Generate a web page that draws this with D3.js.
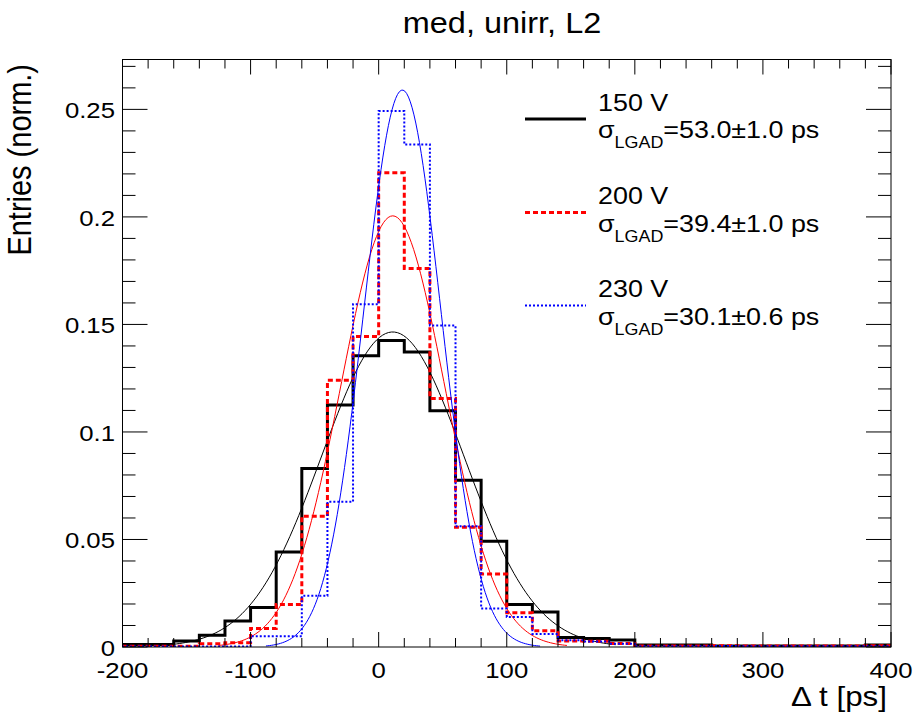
<!DOCTYPE html>
<html>
<head>
<meta charset="utf-8">
<script src="https://cdn.jsdelivr.net/npm/d3@7"></script>
<style>
  body { margin: 0; background: #fff; }
  text { font-family: "Liberation Sans", Arial, Helvetica, sans-serif; fill: #000; }
</style>
</head>
<body>
<div id="chart"></div>
<script>
// bin low edges, 20 ps wide
const binEdges = [-200, -180, -160, -140, -120, -100, -80, -60, -40, -20,
                  0, 20, 40, 60, 80, 100, 120, 140, 160, 180,
                  200, 220, 240, 260, 280, 300, 320, 340, 360, 380];
const binWidth = 20;

const h150 = [0.0012, 0.0012, 0.0028, 0.0055, 0.0121, 0.0184, 0.0442, 0.083, 0.1125, 0.1354,
              0.1425, 0.1372, 0.1099, 0.0776, 0.0492, 0.0198, 0.0163, 0.0044, 0.004, 0.0033,
              0.0009, 0.0009, 0.0009, 0.0005, 0.0005, 0.0005, 0.0005, 0.0005, 0.0005, 0.0009];
const h200 = [0.0004, 0.0004, 0.0004, 0.0015, 0.002, 0.0086, 0.0198, 0.0608, 0.124, 0.1444,
              0.2205, 0.176, 0.1156, 0.0557, 0.0339, 0.0159, 0.0075, 0.0028, 0.0027, 0.0016,
              0.0005, 0.0005, 0.0005, 0.0006, 0.0005, 0.0005, 0.0005, 0.0005, 0.0005, 0.0006];
const h230 = [0.0002, 0.0002, 0.0002, 0.0002, 0.0002, 0.005, 0.005, 0.0238, 0.0675, 0.1594,
              0.2492, 0.2337, 0.1495, 0.0562, 0.0179, 0.014, 0.006, 0.0031, 0.0025, 0.0015,
              0.0003, 0.0003, 0.0003, 0.0005, 0.0003, 0.0003, 0.0003, 0.0003, 0.0003, 0.0003];

// gaussian fit parameters: [amplitude, mean, sigma, from, to]
const fit150 = [0.1465, 11, 55.5, -165, 185];
const fit200 = [0.2005, 11, 40.5, -125, 147];
const fit230 = [0.259, 18.5, 30, -88, 126];

const labels = ['150 V', '200 V', '230 V'];
const sigmas = ['=53.0\u00b11.0 ps', '=39.4\u00b11.0 ps', '=30.1\u00b10.6 ps'];

const xTicks = [-200, -100, 0, 100, 200, 300, 400];
const yTicks = [0, 0.05, 0.1, 0.15, 0.2, 0.25];

const W = 916, H = 715;
const SX = 1.12; // text in the picture is a bit wider than tall

const x = d3.scaleLinear().domain([-200, 400]).range([122.5, 891]);
const y = d3.scaleLinear().domain([0, 0.2732]).range([647, 59.5]);

const svg = d3.select('#chart').append('svg')
	.attr('width', W).attr('height', H);

function txt(sel, px, py, str, size, anchor) {
	return sel.append('text')
		.attr('transform', 'translate(' + px + ',' + py + ') scale(' + SX + ',1)')
		.attr('text-anchor', anchor || 'start')
		.attr('font-size', size)
		.text(str);
}

svg.append('clipPath').attr('id', 'frameclip')
	.append('rect')
	.attr('x', x(-200)).attr('y', y.range()[1])
	.attr('width', x(400) - x(-200)).attr('height', y.range()[0] - y.range()[1]);

const plot = svg.append('g').attr('clip-path', 'url(#frameclip)');

function histPoints(vals) {
	const pts = [{ x: binEdges[0], v: 0 }];
	vals.forEach((v, i) => pts.push({ x: binEdges[i], v: v }));
	const last = binEdges[binEdges.length - 1] + binWidth;
	pts.push({ x: last, v: vals[vals.length - 1] });
	pts.push({ x: last, v: 0 });
	return pts;
}

const stepLine = d3.line()
	.x(d => x(d.x)).y(d => y(d.v))
	.curve(d3.curveStepAfter);

const fitLine = d3.line()
	.x(d => x(d[0])).y(d => y(d[1]));

function fitPoints(p) {
	const [a, m, s, lo, hi] = p;
	const n = 150;
	const out = [];
	for (let i = 0; i <= n; i++) {
		const t = lo + (hi - lo) * i / n;
		out.push([t, a * Math.exp(-0.5 * ((t - m) / s) ** 2)]);
	}
	return out;
}

const series = [
	{ h: h150, fit: fit150, color: '#000000', width: 3, dash: null },
	{ h: h200, fit: fit200, color: '#ff0000', width: 3, dash: '5,3' },
	{ h: h230, fit: fit230, color: '#0000ff', width: 2, dash: '2,2' }
];

series.forEach(s => {
	plot.append('path')
		.attr('d', stepLine(histPoints(s.h)))
		.attr('fill', 'none')
		.attr('stroke', s.color)
		.attr('stroke-width', s.width)
		.attr('stroke-dasharray', s.dash);
	plot.append('path')
		.attr('d', fitLine(fitPoints(s.fit)))
		.attr('fill', 'none')
		.attr('stroke', s.color)
		.attr('stroke-width', 1);
});

// frame and ticks on all sides
const x0 = x(-200), x1 = x(400), y0 = y.range()[0], y1 = y.range()[1];
svg.append('rect')
	.attr('x', x0).attr('y', y1).attr('width', x1 - x0).attr('height', y0 - y1)
	.attr('fill', 'none').attr('stroke', '#000').attr('stroke-width', 1);

const ticks = svg.append('g').attr('stroke', '#000').attr('stroke-width', 1);
d3.range(-200, 401, 20).forEach(t => {
	const major = t % 100 === 0;
	const len = major ? 15 : 9;
	ticks.append('line').attr('x1', x(t)).attr('x2', x(t)).attr('y1', y0).attr('y2', y0 - len);
	ticks.append('line').attr('x1', x(t)).attr('x2', x(t)).attr('y1', y1).attr('y2', y1 + len);
});
d3.range(0, 28).forEach(k => {
	const major = k % 5 === 0;
	const len = major ? 25 : 13;
	const yy = y(k / 100);
	ticks.append('line').attr('x1', x0).attr('x2', x0 + len).attr('y1', yy).attr('y2', yy);
	ticks.append('line').attr('x1', x1).attr('x2', x1 - len).attr('y1', yy).attr('y2', yy);
});

// tick labels
xTicks.forEach(t => txt(svg, x(t), 678, String(t), 23, 'middle'));
yTicks.forEach(t => txt(svg, 115, y(t) + 9, String(+t.toFixed(2)), 23, 'end'));

// titles
txt(svg, 502, 33, 'med, unirr, L2', 29, 'middle');
txt(svg, 887, 706, '\u0394 t [ps]', 28, 'end');
svg.append('text')
	.attr('transform', 'translate(31,64) scale(' + SX + ',1) rotate(-90)')
	.attr('text-anchor', 'end')
	.attr('font-size', 29)
	.text('Entries (norm.)');

// legend
const legY = [119, 212.5, 305.5];
series.forEach((s, i) => {
	svg.append('line')
		.attr('x1', 525).attr('x2', 586)
		.attr('y1', legY[i]).attr('y2', legY[i])
		.attr('stroke', s.color)
		.attr('stroke-width', s.width)
		.attr('stroke-dasharray', s.dash);
	txt(svg, 598, legY[i] - 8.5, labels[i], 24);
	const t = txt(svg, 598, legY[i] + 19, '\u03c3', 24);
	t.append('tspan').attr('font-size', 16).attr('dy', 10).text('LGAD');
	t.append('tspan').attr('dy', -10).text(sigmas[i]);
});
</script>
</body>
</html>
